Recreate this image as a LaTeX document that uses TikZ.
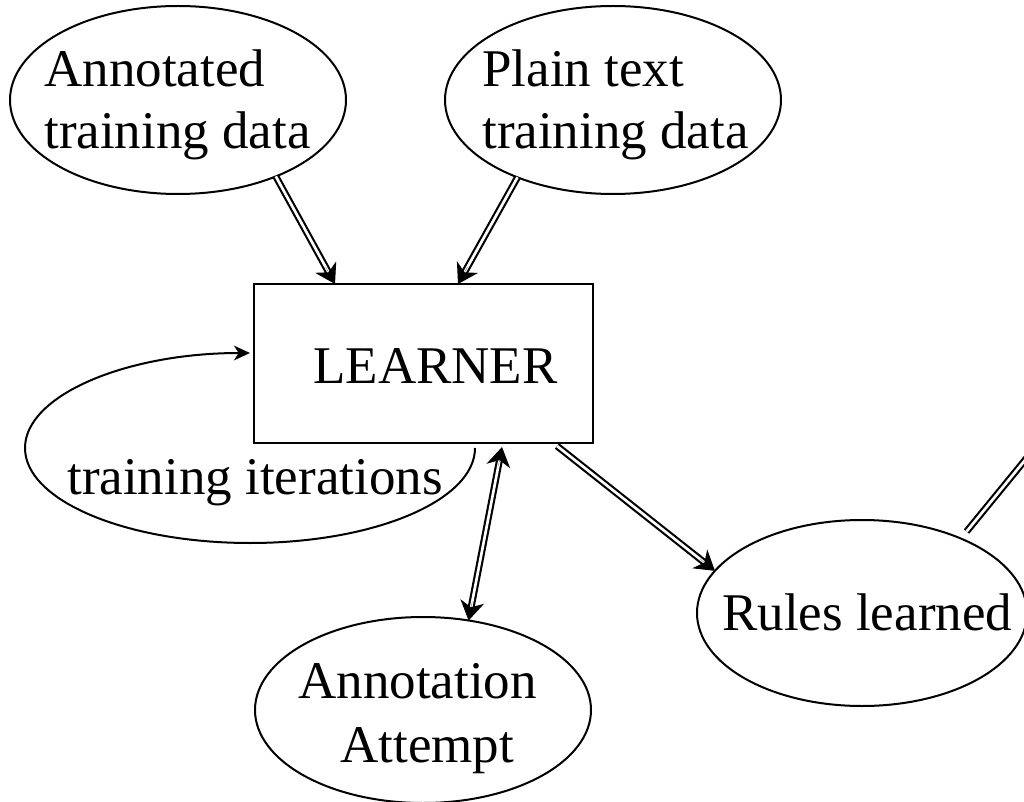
\documentclass[tikz,border=0pt]{standalone}
\usepackage{fontspec}
\setmainfont{Liberation Serif}
\usetikzlibrary{arrows.meta,calc,shapes.geometric}
\begin{document}
\begin{tikzpicture}[x=0.75pt,y=-0.75pt,
  outline/.style={draw, line width=1.5pt},
  blob/.style={outline, ellipse, inner sep=0pt, outer sep=0pt},
  lbl/.style={anchor=base west, inner sep=0pt, font=\fontsize{39.75}{46}\selectfont},
  dline/.style={draw, line width=1.6pt, double, double distance=2pt},
  dtip/.style={line width=0.1pt, -{Stealth[length=14.5pt,width=18pt,inset=4.5pt,line width=0.8pt]}},
  looptip/.style={-{Stealth[length=12pt,width=11pt,inset=3.5pt]}}
]
\clip (0,0) rectangle (1024,802);

% shapes
\node[blob, minimum width=252pt, minimum height=141pt] (ann) at (178,100) {};
\node[blob, minimum width=252pt, minimum height=141pt] (plain) at (613,100) {};
\node[outline, rectangle, inner sep=0pt, outer sep=0pt,
      minimum width=254.25pt, minimum height=119.25pt] (learner) at (423.5,363.5) {};
\node[blob, minimum width=247.5pt, minimum height=139.5pt] (rules) at (862,613) {};
\node[blob, minimum width=252pt, minimum height=139.5pt] (attempt) at (423,710) {};

% labels
\node[lbl] (annA) at (44,87) {Annotated};
\node[lbl] (annB) at (44,149) {training data};
\node[lbl] (plainA) at (482,87) {Plain text};
\node[lbl] (plainB) at (482,149) {training data};
\node[lbl] (learnerT) at (313,383) {LEARNER};
\node[lbl] (iterT) at (67,494) {training iterations};
\node[lbl] (rulesT) at (722,630) {Rules learned};
\node[lbl] (attA) at (298,698) {Annotation};
\node[lbl] (attB) at (340,762) {Attempt};

% attachment points on the learner box
\coordinate (lA) at ($(learner.north west)+(81,0)$);
\coordinate (lB) at ($(learner.north west)+(204,0)$);
\coordinate (lC) at ($(learner.south west)+(248,4)$);
\coordinate (lD) at ($(learner.south west)+(303,3)$);
\coordinate (lE) at ($(learner.south west)+(221,5)$);
\coordinate (out) at (1093,377);

% training data into the learner
\draw[dline, shorten >=10pt] (ann.-38) -- (lA);
\draw[dtip] ($(lA)!14.5pt!(ann.-38)$) -- (lA);
\draw[dline, shorten >=10pt] (plain.-141) -- (lB);
\draw[dtip] ($(lB)!14.5pt!(plain.-141)$) -- (lB);

% learner <-> annotation attempt
\draw[dline, shorten >=10pt, shorten <=10pt] (attempt.63) -- (lC);
\draw[dtip] ($(lC)!14.5pt!(attempt.63)$) -- (lC);
\draw[dtip] ($(attempt.63)!14.5pt!(lC)$) -- (attempt.63);

% learner to rules
\draw[dline, shorten >=10pt] (lD) -- (rules.164);
\draw[dtip] ($(rules.164)!14.5pt!(lD)$) -- (rules.164);

% rules onward
\draw[dline, shorten <=6.75pt] (rules.37) -- (out);

% training iterations loop
\draw[outline, looptip] (lE) arc[start angle=0, end angle=-270, x radius=168.75pt, y radius=71.25pt];
\end{tikzpicture}
\end{document}
